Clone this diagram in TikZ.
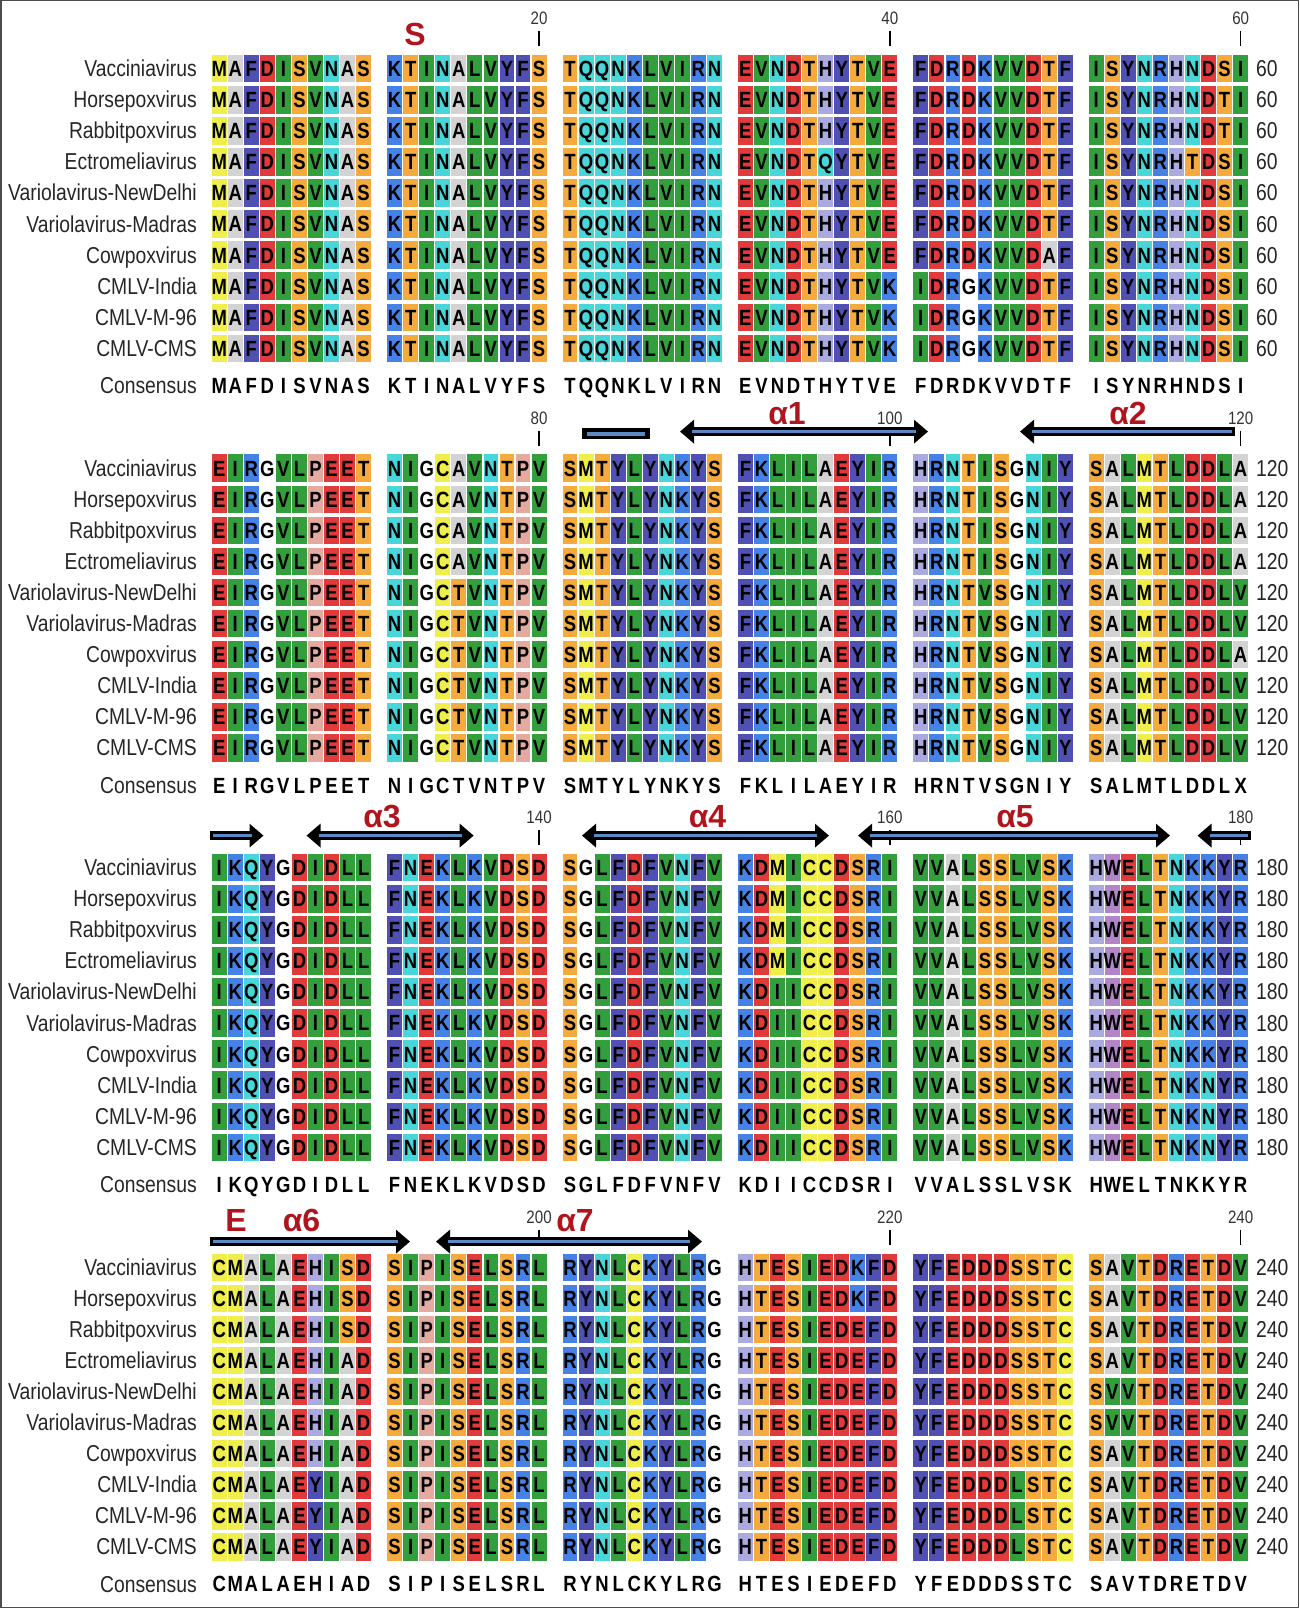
\documentclass[tikz,border=0pt]{standalone}
\usepackage{fontspec}
\setmainfont{Liberation Sans}
\newfontfamily\namefont[FakeStretch=0.84]{Liberation Sans}
\newfontfamily\resfont[FakeStretch=0.84]{Liberation Sans}
\usetikzlibrary{arrows.meta}

% residue colours
\definecolor{resA}{HTML}{D3D3D3}
\definecolor{resM}{HTML}{F0EE4C}
\colorlet{resC}{resM}
\definecolor{resF}{HTML}{5050B2}
\colorlet{resY}{resF}
\definecolor{resD}{HTML}{E03A3A}
\colorlet{resE}{resD}
\definecolor{resI}{HTML}{339E3C}
\colorlet{resL}{resI}
\colorlet{resV}{resI}
\definecolor{resS}{HTML}{F4AA3C}
\colorlet{resT}{resS}
\definecolor{resN}{HTML}{48D6D8}
\colorlet{resQ}{resN}
\definecolor{resK}{HTML}{4682E6}
\colorlet{resR}{resK}
\definecolor{resH}{HTML}{AAAAE0}
\definecolor{resP}{HTML}{E4AAA0}
\definecolor{resW}{HTML}{B284C8}
\definecolor{resG}{HTML}{FFFFFF}
\definecolor{helixblue}{HTML}{5A8AC6}
\definecolor{labelred}{HTML}{B0141C}

\tikzset{
  restxt/.style={font=\resfont\bfseries\fontsize{22}{22}\selectfont, inner sep=0pt, anchor=base},
  seqname/.style={font=\namefont\fontsize{23}{23}\selectfont, inner sep=0pt, anchor=base east, text=black!85},
  endnum/.style={font=\namefont\fontsize{23}{23}\selectfont, inner sep=0pt, anchor=base west, text=black!85},
  ticknum/.style={font=\namefont\fontsize{18}{18}\selectfont, inner sep=0pt, text=black!80},
  sslabel/.style={font=\bfseries\fontsize{32}{32}\selectfont, inner sep=0pt, anchor=base, text=labelred},
  helix/.style={line width=9.5pt, draw=black, >={Triangle[length=14pt,width=23pt]}},
  core/.style={line width=3.5pt, draw=helixblue},
}

\newcount\rescol
\def\seqline#1#2#3{\global\rescol=0 \def\rowy{#2}\def\rowname{#1}\expandafter\walkres#3\relax}
\def\walkres#1{\ifx\relax#1\else\putcell{#1}\expandafter\walkres\fi}
\newcommand\putres[1]{%
  \pgfmathsetmacro\resx{211.2+int(\the\rescol/10)*175.4+mod(\the\rescol,10)*16.05}%
  \fill[res#1] (\resx+0.6,\rowy-13.75) rectangle (\resx+15.45,\rowy+13.75);
  \node[restxt] (\rowname-\the\rescol) at (\resx+8.0,\rowy+7.9) {#1};
  \global\advance\rescol by 1\relax}
\newcommand\putcons[1]{%
  \pgfmathsetmacro\resx{211.2+int(\the\rescol/10)*175.4+mod(\the\rescol,10)*16.05}%
  \node[restxt] (\rowname-\the\rescol) at (\resx+8.0,\rowy+7.9) {#1};
  \global\advance\rescol by 1\relax}

\def\strains{Vacciniavirus,Horsepoxvirus,Rabbitpoxvirus,Ectromeliavirus,Variolavirus-NewDelhi,Variolavirus-Madras,Cowpoxvirus,CMLV-India,CMLV-M-96,CMLV-CMS}

\begin{document}
\begin{tikzpicture}[x=1pt,y=-1pt]
\useasboundingbox (0,0) rectangle (1299,1608);
\draw[line width=1.5pt, black!70] (0.75,0.75) rectangle (1298.25,1607.25);

% names, end numbers, ticks
\foreach \b in {0,...,3}{
  \pgfmathsetmacro\endno{int(60*(\b+1))}
  \foreach \nm [count=\r from 0] in \strains{
    \pgfmathsetmacro\y{68.7+\b*399.5+\r*31.07}
    \node[seqname] (name\b-\r) at (197,\y+8) {\nm};
    \node[endnum] (num\b-\r) at (1256,\y+8) {\endno};
  }
  \pgfmathsetmacro\y{68.7+\b*399.5+317}
  \node[seqname] (cons\b) at (197,\y+8) {Consensus};
  \foreach \g [count=\k] in {1,3,5}{
    \pgfmathsetmacro\tx{363.65+\g*175.4}
    \pgfmathsetmacro\tn{int(60*\b+20*\k)}
    \node[ticknum] (tick\b-\k) at (\tx,\b*399.5+18.5) {\tn};
    \draw[line width=1.3pt] (\tx,\b*399.5+31) -- (\tx,\b*399.5+46);
  }
}

% block 1
\foreach \s [count=\r from 0] in {
  MAFDISVNAS KTINALVYFS TQQNKLVIRN EVNDTHYTVE FDRDKVVDTF ISYNRHNDSI,
  MAFDISVNAS KTINALVYFS TQQNKLVIRN EVNDTHYTVE FDRDKVVDTF ISYNRHNDTI,
  MAFDISVNAS KTINALVYFS TQQNKLVIRN EVNDTHYTVE FDRDKVVDTF ISYNRHNDTI,
  MAFDISVNAS KTINALVYFS TQQNKLVIRN EVNDTQYTVE FDRDKVVDTF ISYNRHTDSI,
  MAFDISVNAS KTINALVYFS TQQNKLVIRN EVNDTHYTVE FDRDKVVDTF ISYNRHNDSI,
  MAFDISVNAS KTINALVYFS TQQNKLVIRN EVNDTHYTVE FDRDKVVDTF ISYNRHNDSI,
  MAFDISVNAS KTINALVYFS TQQNKLVIRN EVNDTHYTVE FDRDKVVDAF ISYNRHNDSI,
  MAFDISVNAS KTINALVYFS TQQNKLVIRN EVNDTHYTVK IDRGKVVDTF ISYNRHNDSI,
  MAFDISVNAS KTINALVYFS TQQNKLVIRN EVNDTHYTVK IDRGKVVDTF ISYNRHNDSI,
  MAFDISVNAS KTINALVYFS TQQNKLVIRN EVNDTHYTVK IDRGKVVDTF ISYNRHNDSI}{
  \pgfmathsetmacro\y{68.7+\r*31.07}
  \let\putcell\putres \seqline{a\r}{\y}{\s}
}
\def\s{MAFDISVNAS KTINALVYFS TQQNKLVIRN EVNDTHYTVE FDRDKVVDTF ISYNRHNDSI}
\let\putcell\putcons \seqline{ac}{385.7}{\s}

% block 2
\foreach \s [count=\r from 0] in {
  EIRGVLPEET NIGCAVNTPV SMTYLYNKYS FKLILAEYIR HRNTISGNIY SALMTLDDLA,
  EIRGVLPEET NIGCAVNTPV SMTYLYNKYS FKLILAEYIR HRNTISGNIY SALMTLDDLA,
  EIRGVLPEET NIGCAVNTPV SMTYLYNKYS FKLILAEYIR HRNTISGNIY SALMTLDDLA,
  EIRGVLPEET NIGCAVNTPV SMTYLYNKYS FKLILAEYIR HRNTISGNIY SALMTLDDLA,
  EIRGVLPEET NIGCTVNTPV SMTYLYNKYS FKLILAEYIR HRNTVSGNIY SALMTLDDLV,
  EIRGVLPEET NIGCTVNTPV SMTYLYNKYS FKLILAEYIR HRNTVSGNIY SALMTLDDLV,
  EIRGVLPEET NIGCTVNTPV SMTYLYNKYS FKLILAEYIR HRNTVSGNIY SALMTLDDLA,
  EIRGVLPEET NIGCTVNTPV SMTYLYNKYS FKLILAEYIR HRNTVSGNIY SALMTLDDLV,
  EIRGVLPEET NIGCTVNTPV SMTYLYNKYS FKLILAEYIR HRNTVSGNIY SALMTLDDLV,
  EIRGVLPEET NIGCTVNTPV SMTYLYNKYS FKLILAEYIR HRNTVSGNIY SALMTLDDLV}{
  \pgfmathsetmacro\y{468.2+\r*31.07}
  \let\putcell\putres \seqline{b\r}{\y}{\s}
}
\def\s{EIRGVLPEET NIGCTVNTPV SMTYLYNKYS FKLILAEYIR HRNTVSGNIY SALMTLDDLX}
\let\putcell\putcons \seqline{bc}{785.2}{\s}

% block 3
\foreach \s [count=\r from 0] in {
  IKQYGDIDLL FNEKLKVDSD SGLFDFVNFV KDMICCDSRI VVALSSLVSK HWELTNKKYR,
  IKQYGDIDLL FNEKLKVDSD SGLFDFVNFV KDMICCDSRI VVALSSLVSK HWELTNKKYR,
  IKQYGDIDLL FNEKLKVDSD SGLFDFVNFV KDMICCDSRI VVALSSLVSK HWELTNKKYR,
  IKQYGDIDLL FNEKLKVDSD SGLFDFVNFV KDMICCDSRI VVALSSLVSK HWELTNKKYR,
  IKQYGDIDLL FNEKLKVDSD SGLFDFVNFV KDIICCDSRI VVALSSLVSK HWELTNKKYR,
  IKQYGDIDLL FNEKLKVDSD SGLFDFVNFV KDIICCDSRI VVALSSLVSK HWELTNKKYR,
  IKQYGDIDLL FNEKLKVDSD SGLFDFVNFV KDIICCDSRI VVALSSLVSK HWELTNKKYR,
  IKQYGDIDLL FNEKLKVDSD SGLFDFVNFV KDIICCDSRI VVALSSLVSK HWELTNKNYR,
  IKQYGDIDLL FNEKLKVDSD SGLFDFVNFV KDIICCDSRI VVALSSLVSK HWELTNKNYR,
  IKQYGDIDLL FNEKLKVDSD SGLFDFVNFV KDIICCDSRI VVALSSLVSK HWELTNKNYR}{
  \pgfmathsetmacro\y{867.7+\r*31.07}
  \let\putcell\putres \seqline{c\r}{\y}{\s}
}
\def\s{IKQYGDIDLL FNEKLKVDSD SGLFDFVNFV KDIICCDSRI VVALSSLVSK HWELTNKKYR}
\let\putcell\putcons \seqline{cc}{1184.3}{\s}

% block 4
\foreach \s [count=\r from 0] in {
  CMALAEHISD SIPISELSRL RYNLCKYLRG HTESIEDKFD YFEDDDSSTC SAVTDRETDV,
  CMALAEHISD SIPISELSRL RYNLCKYLRG HTESIEDKFD YFEDDDSSTC SAVTDRETDV,
  CMALAEHISD SIPISELSRL RYNLCKYLRG HTESIEDEFD YFEDDDSSTC SAVTDRETDV,
  CMALAEHIAD SIPISELSRL RYNLCKYLRG HTESIEDEFD YFEDDDSSTC SAVTDRETDV,
  CMALAEHIAD SIPISELSRL RYNLCKYLRG HTESIEDEFD YFEDDDSSTC SVVTDRETDV,
  CMALAEHIAD SIPISELSRL RYNLCKYLRG HTESIEDEFD YFEDDDSSTC SVVTDRETDV,
  CMALAEHIAD SIPISELSRL RYNLCKYLRG HTESIEDEFD YFEDDDSSTC SAVTDRETDV,
  CMALAEYIAD SIPISELSRL RYNLCKYLRG HTESIEDEFD YFEDDDLSTC SAVTDRETDV,
  CMALAEYIAD SIPISELSRL RYNLCKYLRG HTESIEDEFD YFEDDDLSTC SAVTDRETDV,
  CMALAEYIAD SIPISELSRL RYNLCKYLRG HTESIEDEFD YFEDDDLSTC SAVTDRETDV}{
  \pgfmathsetmacro\y{1267.3+\r*31.07}
  \let\putcell\putres \seqline{d\r}{\y}{\s}
}
\def\s{CMALAEHIAD SIPISELSRL RYNLCKYLRG HTESIEDEFD YFEDDDSSTC SAVTDRETDV}
\let\putcell\putcons \seqline{dc}{1583.5}{\s}

% secondary structure
\node[sslabel] (lS)  at (415,46)    {S};
\node[sslabel] (la1) at (787,424)   {α1};
\node[sslabel] (la2) at (1128,424)  {α2};
\node[sslabel] (la3) at (382,827)   {α3};
\node[sslabel] (la4) at (707.5,827) {α4};
\node[sslabel] (la5) at (1015,827)  {α5};
\node[sslabel] (lE)  at (236,1231)  {E};
\node[sslabel] (la6) at (301.5,1231){α6};
\node[sslabel] (la7) at (575,1231)  {α7};

\coordinate (bar-s) at (582,433.7);  \coordinate (bar-e) at (650,433.7);
\coordinate (h1-s)  at (680,431.6);  \coordinate (h1-e)  at (928,431.6);
\coordinate (h2-s)  at (1020,431.6); \coordinate (h2-e)  at (1235,431.6);
\coordinate (r3-s)  at (210,835.6);  \coordinate (r3-e)  at (263.5,835.6);
\coordinate (h3-s)  at (306.5,835.6);\coordinate (h3-e)  at (473.7,835.6);
\coordinate (h4-s)  at (582,835.6);  \coordinate (h4-e)  at (829,835.6);
\coordinate (h5-s)  at (858,835.6);  \coordinate (h5-e)  at (1170,835.6);
\coordinate (l3-s)  at (1197.5,835.6);\coordinate (l3-e) at (1251,835.6);
\coordinate (h6-s)  at (210,1241.6); \coordinate (h6-e)  at (410,1241.6);
\coordinate (h7-s)  at (436,1241.6); \coordinate (h7-e)  at (702,1241.6);

\draw[helix, line width=11pt] (bar-s) -- (bar-e);
\draw[core, line width=4pt, shorten <=5pt, shorten >=5pt] (bar-s) -- (bar-e);
\foreach \h in {h1,h3,h4,h5,h7}{
  \draw[helix,<->] (\h-s) -- (\h-e);
  \draw[core, shorten <=12pt, shorten >=12pt] (\h-s) -- (\h-e);
}
\foreach \h in {h2,l3}{
  \draw[helix,<-] (\h-s) -- (\h-e);
  \draw[core, shorten <=12pt, shorten >=3pt] (\h-s) -- (\h-e);
}
\foreach \h in {r3,h6}{
  \draw[helix,->] (\h-s) -- (\h-e);
  \draw[core, shorten <=3pt, shorten >=12pt] (\h-s) -- (\h-e);
}
\end{tikzpicture}
\end{document}
